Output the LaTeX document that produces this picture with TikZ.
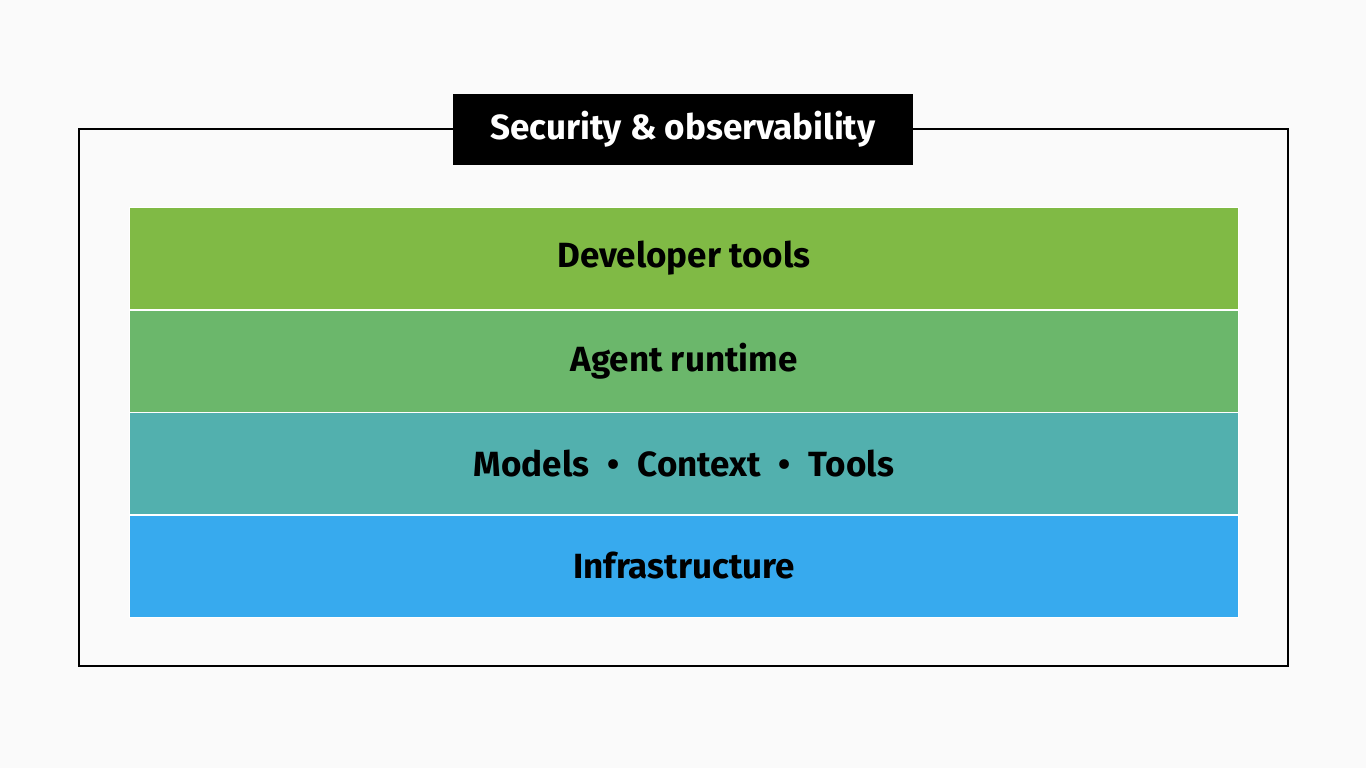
\documentclass[tikz,border=0pt]{standalone}
\usepackage{fontspec}
\setmainfont{Fira Sans}
\begin{document}
\begin{tikzpicture}[x=1pt,y=-1pt,
  band/.style={draw=white, line width=1pt, minimum width=1109pt, minimum height=102pt, inner sep=0pt, anchor=north west, font=\fontsize{35}{40}\selectfont\bfseries},
  titlebox/.style={fill=black, text=white, minimum width=460pt, minimum height=71pt, inner sep=0pt, font=\fontsize{35}{40}\selectfont\bfseries}]
\definecolor{bg}{HTML}{FAFAFA}
\definecolor{gone}{HTML}{80BA45}
\definecolor{gtwo}{HTML}{6BB76B}
\definecolor{teal}{HTML}{52B0AE}
\definecolor{blu}{HTML}{37AAEE}
\useasboundingbox (0,0) rectangle (1366,768);
\fill[bg] (0,0) rectangle (1366,768);
\draw[line width=2pt] (79,129) rectangle (1288,666);
\node[titlebox] (title) at (683,129.5) {Security \& observability};
\node[band, fill=gone] (dev) at (129,207) {Developer tools};
\node[band, fill=gtwo] (agent) at (129,309.5) {Agent runtime};
\node[band, fill=teal] (mct) at (129,412) {Models\hspace{18pt}\textbullet\hspace{18pt}Context\hspace{18pt}\textbullet\hspace{18pt}Tools};
\node[band, fill=blu] (infra) at (129,514.5) {Infrastructure};
\end{tikzpicture}
\end{document}
